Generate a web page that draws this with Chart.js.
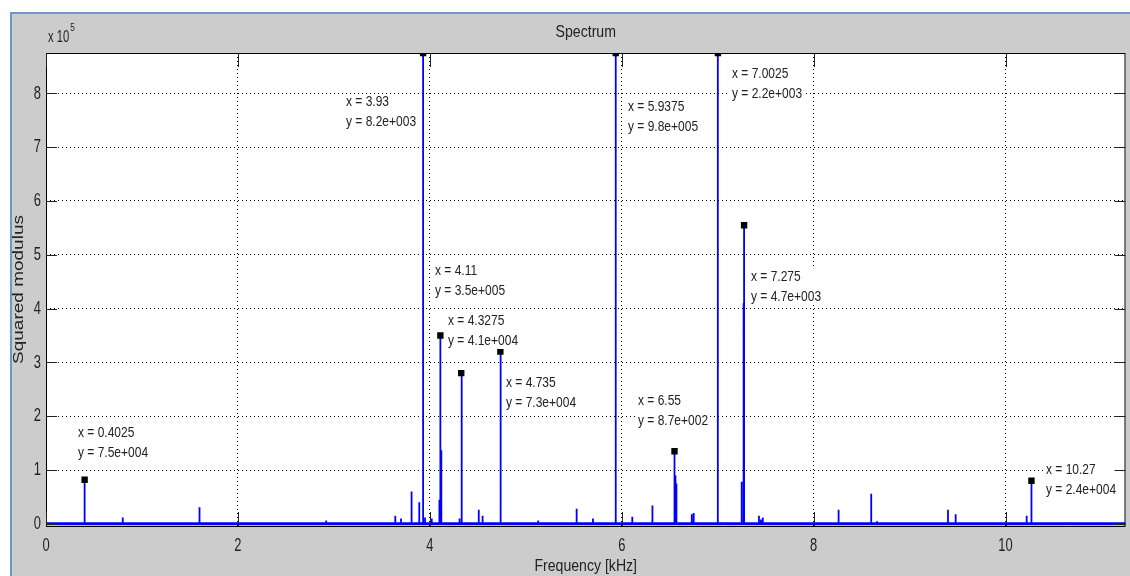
<!DOCTYPE html>
<html>
<head>
<meta charset="utf-8">
<title>Spectrum</title>
<script src="https://cdn.jsdelivr.net/npm/chart.js@4.4.1/dist/chart.umd.min.js"></script>
<style>
  html, body { margin: 0; padding: 0; background: #fff; }
</style>
</head>
<body>
<canvas id="spectrum" width="1130" height="576"></canvas>
<script>
// Spectral lines: frequency in kHz, squared modulus in units of 1e5
const peakFreq = [
  0.4025, 0.80, 1.60, 2.92, 3.64, 3.70, 3.81, 3.89, 3.93, 3.95, 4.02,
  4.10, 4.11, 4.12, 4.31, 4.3275, 4.335, 4.51, 4.55, 4.735, 4.74,
  5.13, 5.53, 5.70, 5.9375, 6.11, 6.32, 6.55, 6.56, 6.57, 6.73, 6.75,
  7.0, 7.0025, 7.10, 7.25, 7.27, 7.275, 7.43, 7.45, 7.47,
  8.26, 8.60, 8.66, 9.40, 9.48, 10.22, 10.27, 10.68
];
const peakPower = [
  0.82, 0.12, 0.31, 0.06, 0.15, 0.10, 0.60, 0.40, 9.5, 0.12, 0.10,
  0.45, 3.50, 1.37, 0.10, 2.80, 1.76, 0.26, 0.15, 3.20, 1.10,
  0.06, 0.28, 0.10, 9.5, 0.13, 0.34, 1.35, 0.90, 0.75, 0.18, 0.20,
  4.00, 9.5, 0.02, 0.78, 4.10, 5.55, 0.15, 0.08, 0.12,
  0.26, 0.56, 0.05, 0.26, 0.18, 0.15, 0.80, 0.02
];

// Data tips (marker height is clipped to the axis top for the tall lines)
const tipFreq  = [0.4025, 3.93, 4.11, 4.3275, 4.735, 5.9375, 6.55, 7.0025, 7.275, 10.27];
const tipPower = [0.82, 8.75, 3.50, 2.80, 3.20, 8.75, 1.35, 8.75, 5.55, 0.80];
const tipText  = ['7.5e+004', '8.2e+003', '3.5e+005', '4.1e+004', '7.3e+004',
                  '9.8e+005', '8.7e+002', '2.2e+003', '4.7e+003', '2.4e+004'];
// pixel offset from the marker to the first text line
const tipOffset = [[-7, -47], [-77, 49], [-5, -65], [-13, -52], [6, 31],
                   [12, 54], [-37, -50], [14, 21], [7, 52], [15, -11]];

const xTicks = [0, 2, 4, 6, 8, 10];
const yTicks = [0, 1, 2, 3, 4, 5, 6, 7, 8];
const xMax = 11.25;

const FONT = "'Liberation Sans', Arial, sans-serif";
const TEXT = '#222';

// every line is drawn as a stem: up from the floor and back down
const lineData = [{ x: 0, y: 0 }];
peakFreq.forEach((f, i) => {
  lineData.push({ x: f, y: 0 }, { x: f, y: peakPower[i] }, { x: f, y: 0 });
});
lineData.push({ x: xMax, y: 0 });
const floorData = [{ x: 0, y: 0 }, { x: xMax, y: 0 }];

const tipData = tipFreq.map((f, i) => ({ x: f, y: tipPower[i] }));

// narrow lettering, like the old figure window fonts
function squeezed(ctx, str, x, y, sx, align) {
  ctx.save();
  ctx.translate(x, y);
  ctx.scale(sx, 1);
  ctx.textAlign = align;
  ctx.fillText(str, 0, 0);
  ctx.restore();
}

// figure background, axes box, ticks, labels, data tips and title
const matlabFrame = {
  id: 'matlabFrame',
  beforeDraw(chart) {
    const { ctx, width, height, chartArea: a } = chart;
    ctx.save();
    ctx.fillStyle = '#fff';
    ctx.fillRect(0, 0, width, height);
    ctx.fillStyle = '#cccccc';
    ctx.fillRect(11, 13, width - 11, height - 13);
    ctx.strokeStyle = '#6f96d0';
    ctx.lineWidth = 2;
    ctx.beginPath();
    ctx.moveTo(11, height);
    ctx.lineTo(11, 13);
    ctx.lineTo(width, 13);
    ctx.stroke();
    ctx.fillStyle = '#fff';
    ctx.fillRect(a.left, a.top, a.right - a.left, a.bottom - a.top);
    ctx.restore();
  },
  afterDatasetsDraw(chart) {
    const { ctx, chartArea: a, scales: { x, y } } = chart;
    ctx.save();
    ctx.textBaseline = 'middle';

    // data tip labels
    const marks = chart.getDatasetMeta(0).data;
    const tipSx = 0.8;
    ctx.font = `15px ${FONT}`;
    marks.forEach((m, i) => {
      const lx = Math.round(m.x + tipOffset[i][0]);
      const ly = Math.round(m.y + tipOffset[i][1]);
      const l1 = `x = ${tipFreq[i]}`;
      const l2 = `y = ${tipText[i]}`;
      const w = Math.max(ctx.measureText(l1).width, ctx.measureText(l2).width) * tipSx;
      ctx.fillStyle = '#fff';
      ctx.fillRect(lx - 2, ly - 8, w + 4, 36);
      ctx.fillStyle = TEXT;
      squeezed(ctx, l1, lx, ly, tipSx, 'left');
      squeezed(ctx, l2, lx, ly + 20, tipSx, 'left');
    });

    // axes box
    ctx.strokeStyle = '#000';
    ctx.lineWidth = 1;
    ctx.strokeRect(a.left + 0.5, a.top + 0.5, a.right - a.left - 1, a.bottom - a.top);

    // ticks pointing into the plot
    ctx.strokeStyle = '#222';
    ctx.beginPath();
    xTicks.forEach(v => {
      const px = Math.round(x.getPixelForValue(v)) + 0.5;
      ctx.moveTo(px, a.bottom); ctx.lineTo(px, a.bottom - 14);
      ctx.moveTo(px, a.top); ctx.lineTo(px, a.top + 14);
    });
    yTicks.forEach(v => {
      const py = Math.round(y.getPixelForValue(v)) + 0.5;
      ctx.moveTo(a.left, py); ctx.lineTo(a.left + 11, py);
      ctx.moveTo(a.right, py); ctx.lineTo(a.right - 11, py);
    });
    ctx.stroke();

    // tick labels
    ctx.fillStyle = TEXT;
    ctx.font = `19px ${FONT}`;
    xTicks.forEach(v => squeezed(ctx, String(v), x.getPixelForValue(v), a.bottom + 20, 0.68, 'center'));
    yTicks.forEach(v => squeezed(ctx, String(v), a.left - 5, y.getPixelForValue(v), 0.68, 'right'));

    // axis titles
    ctx.font = `16px ${FONT}`;
    squeezed(ctx, 'Frequency [kHz]', (a.left + a.right) / 2, 567, 0.88, 'center');
    ctx.save();
    ctx.translate(19, (a.top + a.bottom) / 2);
    ctx.rotate(-Math.PI / 2);
    ctx.scale(1, 0.8);
    ctx.font = `19px ${FONT}`;
    ctx.textAlign = 'center';
    ctx.fillText('Squared modulus', 0, 0);
    ctx.restore();

    // title and exponent
    ctx.font = `17px ${FONT}`;
    squeezed(ctx, 'Spectrum', (a.left + a.right) / 2, 32, 0.83, 'center');
    ctx.font = `16px ${FONT}`;
    squeezed(ctx, 'x 10', 48, 38, 0.7, 'left');
    const ew = ctx.measureText('x 10').width * 0.7;
    ctx.font = `11px ${FONT}`;
    squeezed(ctx, '5', 48 + ew + 1, 28, 0.75, 'left');
    ctx.restore();
  }
};

new Chart(document.getElementById('spectrum'), {
  type: 'line',
  data: {
    datasets: [
      {
        label: 'Data tips',
        data: tipData,
        showLine: false,
        pointStyle: 'rect',
        pointRadius: 4.5,
        pointBackgroundColor: '#000',
        pointBorderWidth: 0,
        borderWidth: 0,
        order: 0,
      },
      {
        label: 'Spectrum',
        data: lineData,
        borderColor: '#0000ff',
        borderWidth: 1.8,
        pointRadius: 0,
        tension: 0,
        order: 1,
        clip: { left: 0, top: 0, right: 0, bottom: 2 },
      },
      {
        label: 'Noise floor',
        data: floorData,
        borderColor: '#0000ff',
        borderWidth: 3,
        pointRadius: 0,
        order: 2,
        clip: { left: 0, top: 0, right: 0, bottom: 2 },
      },
    ],
  },
  options: {
    responsive: false,
    animation: false,
    events: [],
    layout: { padding: { top: 53, right: 3, left: 0, bottom: 0 } },
    plugins: { legend: { display: false }, tooltip: { enabled: false }, title: { display: false } },
    scales: {
      x: {
        type: 'linear',
        min: 0,
        max: xMax,
        afterBuildTicks: s => { s.ticks = xTicks.map(v => ({ value: v })); },
        afterFit: s => { s.height = 50; },
        grid: { color: '#000', lineWidth: 1, drawTicks: false },
        border: { display: false, dash: [1, 3] },
        ticks: { display: false },
      },
      y: {
        type: 'linear',
        min: -0.04,
        max: 8.75,
        afterBuildTicks: s => { s.ticks = yTicks.map(v => ({ value: v })); },
        afterFit: s => { s.width = 46; },
        grid: { color: '#000', lineWidth: 1, drawTicks: false },
        border: { display: false, dash: [1, 3] },
        ticks: { display: false },
      },
    },
  },
  plugins: [matlabFrame],
});
</script>
</body>
</html>
